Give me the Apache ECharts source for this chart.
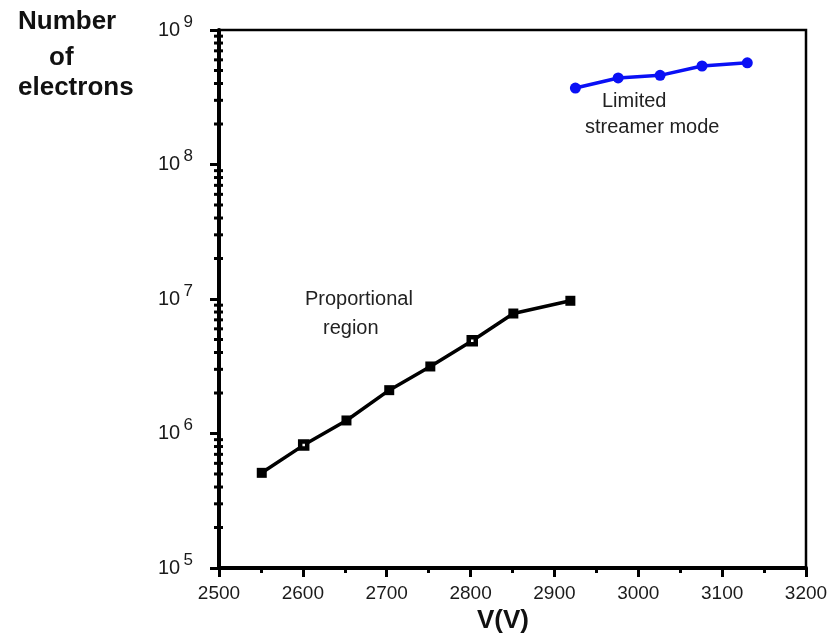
<!DOCTYPE html>
<html>
<head>
<meta charset="utf-8">
<script src="https://cdn.jsdelivr.net/npm/echarts@6/dist/echarts.min.js"></script>
<style>
html,body{margin:0;padding:0;background:#fff;}
#chart{width:836px;height:638px;}
</style>
</head>
<body>
<div id="chart"></div>
<script>
// ---- data ----
var propVoltage = [2551, 2601, 2652, 2703, 2752, 2802, 2851, 2919];
var propElectrons = [5.1e5, 8.2e5, 1.25e6, 2.1e6, 3.15e6, 4.9e6, 7.8e6, 9.7e6];
var propOpen = [false, true, false, false, false, true, false, false];
var streamVoltage = [2925, 2976, 3026, 3076, 3130];
var streamElectrons = [3.7e8, 4.4e8, 4.6e8, 5.4e8, 5.7e8];
var xTicks = [2500, 2600, 2700, 2800, 2900, 3000, 3100, 3200];
var yDecades = [1e5, 1e6, 1e7, 1e8, 1e9];
var minorMultipliers = [2, 3, 4, 5, 6, 7, 8, 9];

var FONT = '"Liberation Sans", Arial, sans-serif';
var minorTickData = [];
for (var d = 0; d < yDecades.length - 1; d++) {
  for (var m = 0; m < minorMultipliers.length; m++) {
    minorTickData.push([xTicks[0], yDecades[d] * minorMultipliers[m]]);
  }
}

var propData = propVoltage.map(function (v, i) {
  var item = { value: [v, propElectrons[i]] };
  if (propOpen[i]) {
    item.symbolSize = 7;
    item.itemStyle = { color: '#fff', borderColor: '#000', borderWidth: 4.5 };
  }
  return item;
});
var streamData = streamVoltage.map(function (v, i) { return [v, streamElectrons[i]]; });

var chart = echarts.init(document.getElementById('chart'), null, { renderer: 'canvas' });
chart.setOption({
  animation: false,
  backgroundColor: '#fff',
  grid: {
    left: 219, right: 30, top: 30, bottom: 70,
    show: true, borderColor: '#000', borderWidth: 2.5, backgroundColor: 'transparent'
  },
  xAxis: {
    type: 'value',
    min: xTicks[0], max: xTicks[xTicks.length - 1], interval: 100,
    axisLine: { show: true, onZero: false, lineStyle: { color: '#000', width: 4 } },
    axisTick: { show: true, length: 9, lineStyle: { color: '#000', width: 3 } },
    minorTick: { show: true, splitNumber: 2, length: 5, lineStyle: { color: '#000', width: 3 } },
    splitLine: { show: false },
    axisLabel: {
      color: '#1a1a1a', fontFamily: FONT, fontSize: 19, margin: 16,
      formatter: function (v) { return String(v); }
    }
  },
  yAxis: {
    type: 'log', logBase: 10,
    min: yDecades[0], max: yDecades[yDecades.length - 1],
    axisLine: { show: true, onZero: false, lineStyle: { color: '#000', width: 4 } },
    axisTick: { show: true, length: 9, lineStyle: { color: '#000', width: 3 } },
    splitLine: { show: false },
    axisLabel: {
      margin: 26,
      formatter: function (v) {
        return '{b|10} {s|' + Math.round(Math.log10(v)) + '}';
      },
      rich: {
        b: { fontFamily: FONT, fontSize: 20, color: '#1a1a1a' },
        s: { fontFamily: FONT, fontSize: 17, color: '#1a1a1a', padding: [0, 0, 16, 0] }
      }
    }
  },
  graphic: [
    { type: 'text', left: 18, top: 9, style: { text: 'Number', font: 'bold 26px ' + FONT, fill: '#111' } },
    { type: 'text', left: 49, top: 45, style: { text: 'of', font: 'bold 26px ' + FONT, fill: '#111' } },
    { type: 'text', left: 18, top: 75, style: { text: 'electrons', font: 'bold 26px ' + FONT, fill: '#111' } },
    { type: 'text', left: 477, top: 608, style: { text: 'V(V)', font: 'bold 26px ' + FONT, fill: '#111' } },
    { type: 'text', left: 305, top: 289, style: { text: 'Proportional', font: '20px ' + FONT, fill: '#222' } },
    { type: 'text', left: 323, top: 318, style: { text: 'region', font: '20px ' + FONT, fill: '#222' } },
    { type: 'text', left: 602, top: 91, style: { text: 'Limited', font: '20px ' + FONT, fill: '#222' } },
    { type: 'text', left: 585, top: 117, style: { text: 'streamer mode', font: '20px ' + FONT, fill: '#222' } }
  ],
  series: [
    {
      type: 'line',
      data: propData,
      symbol: 'rect', symbolSize: 10,
      lineStyle: { color: '#000', width: 3.5 },
      itemStyle: { color: '#000' },
      z: 3
    },
    {
      type: 'line',
      data: streamData,
      symbol: 'circle', symbolSize: 11,
      lineStyle: { color: '#0a10f5', width: 3.5 },
      itemStyle: { color: '#0a10f5' },
      z: 3
    },
    {
      type: 'custom',
      silent: true,
      clip: false,
      z: 5,
      data: minorTickData,
      renderItem: function (params, api) {
        var p = api.coord([api.value(0), api.value(1)]);
        return {
          type: 'line',
          shape: { x1: p[0] - 5, y1: p[1], x2: p[0] + 4, y2: p[1] },
          style: { stroke: '#000', lineWidth: 3 }
        };
      }
    }
  ]
});
</script>
</body>
</html>
